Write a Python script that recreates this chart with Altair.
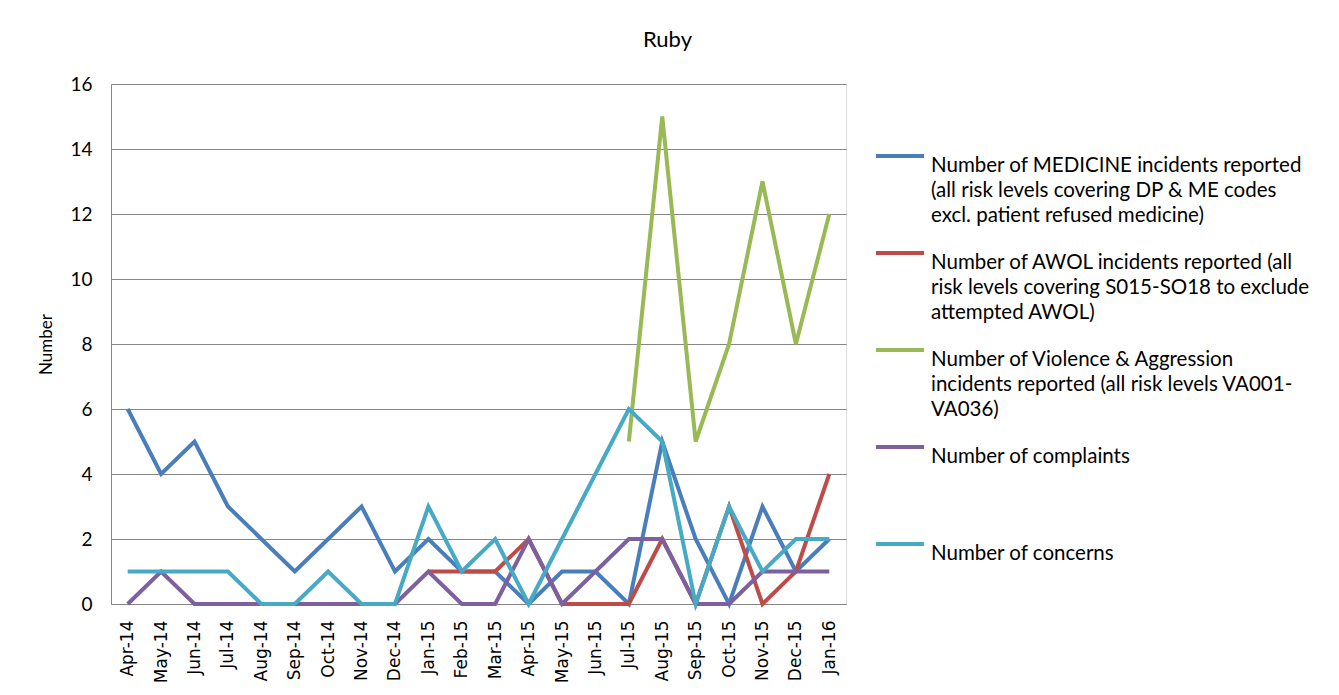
import altair as alt
import pandas as pd

months = ["Apr-14", "May-14", "Jun-14", "Jul-14", "Aug-14", "Sep-14", "Oct-14", "Nov-14",
          "Dec-14", "Jan-15", "Feb-15", "Mar-15", "Apr-15", "May-15", "Jun-15", "Jul-15",
          "Aug-15", "Sep-15", "Oct-15", "Nov-15", "Dec-15", "Jan-16"]

medicine = [6, 4, 5, 3, 2, 1, 2, 3, 1, 2, 1, 1, 0, 1, 1, 0, 5, 2, 0, 3, 1, 2]
awol = [None] * 9 + [1, 1, 1, 2, 0, 0, 0, 2, 0, 3, 0, 1, 4]
violence = [None] * 15 + [5, 15, 5, 8, 13, 8, 12]
complaints = [0, 1, 0, 0, 0, 0, 0, 0, 0, 1, 0, 0, 2, 0, 1, 2, 2, 0, 0, 1, 1, 1]
concerns = [1, 1, 1, 1, 0, 0, 1, 0, 0, 3, 1, 2, 0, 2, 4, 6, 5, 0, 3, 1, 2, 2]

series_names = [
    "Number of MEDICINE incidents reported (all risk levels covering DP & ME codes excl. patient refused medicine)",
    "Number of AWOL incidents reported (all risk levels covering S015-SO18 to exclude attempted AWOL)",
    "Number of Violence & Aggression incidents reported (all risk levels VA001-VA036)",
    "Number of complaints",
    "Number of concerns",
]
legend_lines = [
    ["Number of MEDICINE incidents reported", "(all risk levels covering DP & ME codes", "excl. patient refused medicine)"],
    ["Number of AWOL incidents reported (all", "risk levels covering S015-SO18 to exclude", "attempted AWOL)"],
    ["Number of Violence & Aggression", "incidents reported (all risk levels VA001-", "VA036)"],
    ["Number of complaints", " ", " "],
    ["Number of concerns"],
]
colors = ["#4A7EBB", "#BE4B48", "#98B954", "#7D60A0", "#46AAC5"]
y_ticks = [0, 2, 4, 6, 8, 10, 12, 14, 16]

all_series = [medicine, awol, violence, complaints, concerns]
rows = []
for si, (name, vals) in enumerate(zip(series_names, all_series)):
    for m, v in zip(months, vals):
        rows.append({"month": m, "value": v, "series": name, "order": si})
df = pd.DataFrame(rows)

label_map = {n: l for n, l in zip(series_names, legend_lines)}
label_expr = "".join(
    f"datum.label == {repr(n)} ? {l!r} : " for n, l in label_map.items()
) + "datum.label"

FONT = "Lato"

chart = alt.Chart(df).mark_line(strokeWidth=4).encode(
    x=alt.X("month:N", sort=months,
            scale=alt.Scale(type="point", padding=0.5),
            axis=alt.Axis(title=None, labelAngle=270, labelFont="DejaVu Sans", labelFontSize=17,
                          labelColor="#000000", ticks=False, grid=False, domain=True,
                          domainColor="#868686", labelPadding=16, labelAlign="right",
                          labelBaseline="middle")),
    y=alt.Y("value:Q", scale=alt.Scale(domain=[0, 16]),
            axis=alt.Axis(title="Number", values=y_ticks, labelFont=FONT, labelFontSize=19,
                          labelColor="#000000", titleFont=FONT, titleFontSize=17,
                          titleFontWeight="normal", titleColor="#000000", ticks=False,
                          grid=True, gridColor="#868686", gridWidth=1.2, domain=True,
                          domainColor="#868686", labelPadding=19, titlePadding=14)),
    color=alt.Color("series:N", sort=series_names,
                    scale=alt.Scale(domain=series_names, range=colors),
                    legend=alt.Legend(title=None, orient="none", legendX=763, legendY=46,
                                      symbolType="stroke", symbolSize=2304, symbolStrokeWidth=4,
                                      labelFont=FONT, labelFontSize=20.5, labelColor="#000000",
                                      labelLimit=0, labelOffset=5, rowPadding=0,
                                      labelBaseline="top", labelExpr=label_expr)),
    order=alt.Order("order:Q"),
).properties(
    width=735,
    height=520,
    title=alt.TitleParams("Ruby", font=FONT, fontSize=22, fontWeight="normal", color="#000000",
                          anchor="middle", dx=189, offset=23),
    autosize=alt.AutoSizeParams(type="none"),
    padding={"left": 103, "top": 76, "right": 485, "bottom": 83},
).configure_view(stroke=None).configure(
    style={"guide-label": {"lineHeight": 24.8}}
)

chart.save("out.html", embed_options={"renderer": "svg", "actions": False})
